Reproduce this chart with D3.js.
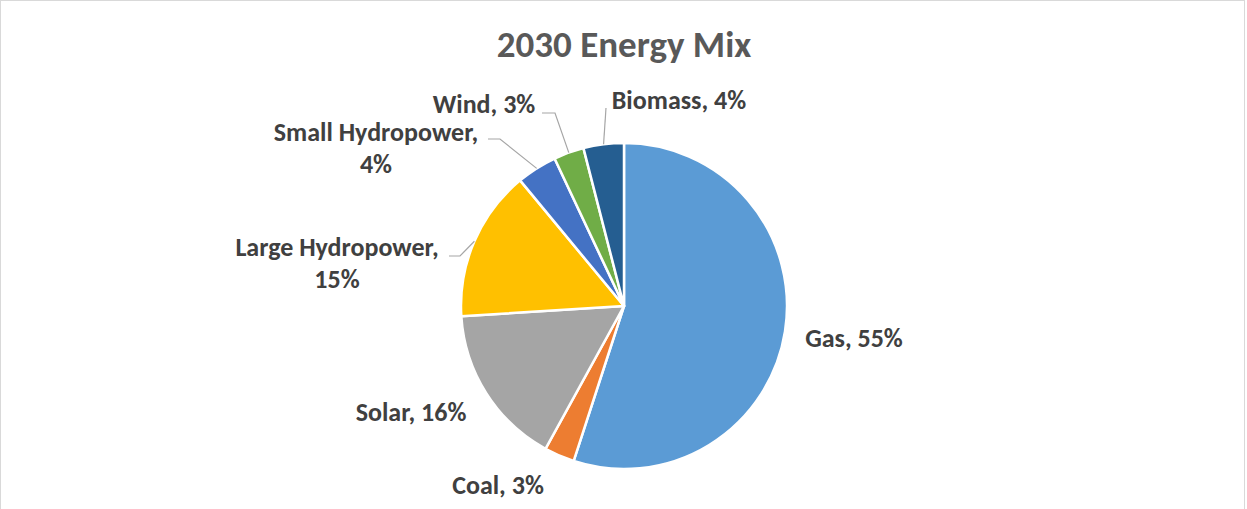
<!DOCTYPE html>
<html>
<head>
<meta charset="utf-8">
<script src="https://cdn.jsdelivr.net/npm/d3@7"></script>
<style>
    body { margin: 0; background: #fff; }
    text { font-family: Carlito, Calibri, Lato, sans-serif; font-weight: bold; }
</style>
</head>
<body>
<script>
var WIDTH = 1247,
    HEIGHT = 509,
    CX = 624,
    CY = 306,
    RADIUS = 163;

var categories = ['Gas', 'Coal', 'Solar', 'Large Hydropower', 'Small Hydropower', 'Wind', 'Biomass'];
var shares = [55, 3, 16, 15, 4, 3, 4];
var colors = ['#5B9BD5', '#ED7D31', '#A5A5A5', '#FFC000', '#4472C4', '#70AD47', '#255E91'];

// label placement (lines of text, anchor x, first baseline, optional leader elbow)
var labelLayout = {
    'Gas':              { x: 854, y: 347, lines: ['Gas, 55%'] },
    'Coal':             { x: 498, y: 494, lines: ['Coal, 3%'] },
    'Solar':            { x: 411, y: 421, lines: ['Solar, 16%'] },
    'Large Hydropower': { x: 337, y: 256, lines: ['Large Hydropower,', '15%'], leader: [[449, 256], [460, 256]] },
    'Small Hydropower': { x: 376, y: 141, lines: ['Small Hydropower,', '4%'], leader: [[488, 139], [500, 139]] },
    'Wind':             { x: 484, y: 113, lines: ['Wind, 3%'], leader: [[542, 113], [555, 113]] },
    'Biomass':          { x: 679, y: 109, lines: ['Biomass, 4%'], leader: [[606, 108]] }
};

document.addEventListener('DOMContentLoaded', function() {
    var svg = d3.select('body').append('svg')
        .attr('width', WIDTH)
        .attr('height', HEIGHT);

    svg.append('rect')
        .attr('x', 0.5).attr('y', 0.5)
        .attr('width', WIDTH - 3).attr('height', HEIGHT + 10)
        .attr('fill', '#fff')
        .attr('stroke', '#D9D9D9');

    svg.append('text')
        .attr('x', CX).attr('y', 57)
        .attr('text-anchor', 'middle')
        .attr('font-size', 37)
        .attr('fill', '#595959')
        .text('2030 Energy Mix');

    drawPie(svg);
});

function drawPie(svg) {
    var data = categories.map((c, i) => ({ name: c, value: shares[i], color: colors[i] }));

    var pie = d3.pie().sort(null).value(d => d.value);
    var arc = d3.arc().innerRadius(0).outerRadius(RADIUS);
    var edge = d3.arc().innerRadius(RADIUS).outerRadius(RADIUS);

    var g = svg.append('g').attr('transform', 'translate(' + CX + ',' + CY + ')');
    var arcs = pie(data);

    g.selectAll('path')
        .data(arcs)
        .enter()
        .append('path')
        .attr('d', arc)
        .attr('fill', d => d.data.color)
        .attr('stroke', '#fff')
        .attr('stroke-width', 2.5)
        .attr('stroke-linejoin', 'round');

    // leader lines
    arcs.forEach(function(d) {
        var lay = labelLayout[d.data.name];
        if (!lay.leader) return;
        var p = edge.centroid(d);
        var pts = lay.leader.concat([[CX + p[0], CY + p[1]]]);
        svg.append('path')
            .attr('d', d3.line()(pts))
            .attr('fill', 'none')
            .attr('stroke', '#A6A6A6')
            .attr('stroke-width', 1.2);
    });

    // labels
    arcs.forEach(function(d) {
        var lay = labelLayout[d.data.name];
        var t = svg.append('text')
            .attr('text-anchor', 'middle')
            .attr('font-size', 26)
            .attr('fill', '#404040');
        lay.lines.forEach(function(line, i) {
            t.append('tspan')
                .attr('x', lay.x)
                .attr('y', lay.y + i * 32)
                .text(line);
        });
    });
}
</script>
</body>
</html>
